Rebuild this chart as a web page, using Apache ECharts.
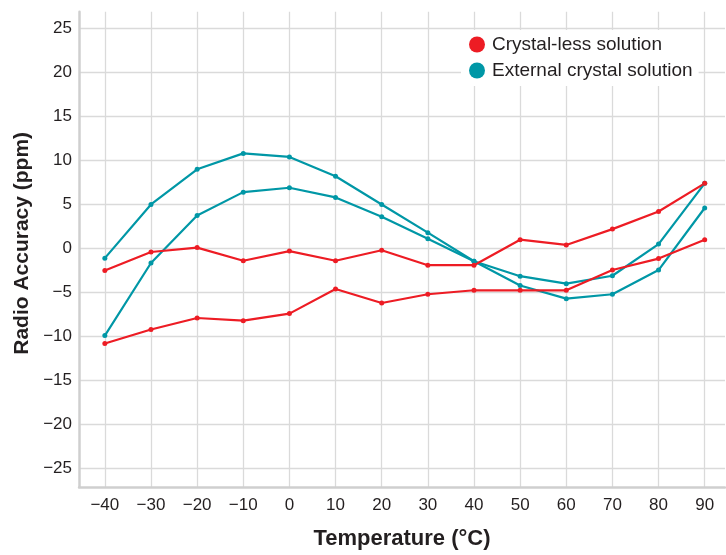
<!DOCTYPE html>
<html>
<head>
<meta charset="utf-8">
<script src="https://cdn.jsdelivr.net/npm/echarts@6/dist/echarts.min.js"></script>
<style>
html,body{margin:0;padding:0;background:#fff;}
#chart{width:726px;height:555px;}
</style>
</head>
<body>
<div id="chart"></div>
<script>
var temperatures = [-40, -30, -20, -10, 0, 10, 20, 30, 40, 50, 60, 70, 80, 90];
var crystalLessUpper = [-2.5, -0.4, 0.1, -1.4, -0.3, -1.4, -0.2, -1.9, -1.9, 1.0, 0.4, 2.2, 4.2, 7.4];
var crystalLessLower = [-10.8, -9.2, -7.9, -8.2, -7.4, -4.6, -6.2, -5.2, -4.75, -4.75, -4.75, -2.45, -1.15, 1.0];
var externalUpper = [-1.1, 5.0, 9.0, 10.8, 10.4, 8.2, 5.0, 1.8, -1.45, -3.15, -4.0, -3.1, 0.5, 7.4];
var externalLower = [-9.9, -1.65, 3.75, 6.4, 6.9, 5.8, 3.6, 1.1, -1.45, -4.2, -5.7, -5.2, -2.45, 4.6];
var yTicks = [-25, -20, -15, -10, -5, 0, 5, 10, 15, 20, 25];
var seriesNames = ['Crystal-less solution', 'External crystal solution'];

var RED = '#ed1c24';
var TEAL = '#0097a6';
var TXT = '#231f20';
var FONT = 'Liberation Sans, Arial, sans-serif';

function pairs(vals) {
  return temperatures.map(function (t, i) { return [t, vals[i]]; });
}
function fmt(v) { return String(v).replace('-', '\u2212'); }

function lineSeries(name, vals, color) {
  return {
    type: 'line', name: name, data: pairs(vals),
    symbol: 'circle', symbolSize: 5,
    lineStyle: { color: color, width: 2.2 },
    itemStyle: { color: color },
    emphasis: { disabled: true },
    animation: false
  };
}

var chart = echarts.init(document.getElementById('chart'), null, { renderer: 'canvas' });
chart.setOption({
  backgroundColor: '#fff',
  animation: false,
  textStyle: { fontFamily: FONT },
  grid: { left: 79, right: 1, top: 11.7, bottom: 62.3, containLabel: false },
  legend: {
    data: seriesNames,
    orient: 'vertical',
    left: 461, top: 30,
    padding: [5, 6, 6, 8],
    itemWidth: 16, itemHeight: 16, itemGap: 7,
    icon: 'circle',
    backgroundColor: '#fff',
    textStyle: { fontSize: 19, color: TXT, padding: [0, 0, 0, 2], fontFamily: FONT }
  },
  xAxis: {
    type: 'value', min: -45.6, max: 94.4,
    name: 'Temperature (\u00b0C)', nameLocation: 'middle', nameGap: 41,
    nameTextStyle: { fontSize: 22, fontWeight: 'bold', color: TXT, fontFamily: FONT },
    axisLine: { show: true, onZero: false, lineStyle: { color: '#cfcfcf', width: 2.5 } },
    axisTick: { show: false, customValues: temperatures },
    axisLabel: { customValues: temperatures, formatter: fmt, fontSize: 17, color: TXT, margin: 10 },
    splitLine: { show: true, lineStyle: { color: '#dadada', width: 1.3 } }
  },
  yAxis: {
    type: 'value', min: -27.1, max: 26.9,
    name: 'Radio Accuracy (ppm)', nameLocation: 'middle', nameGap: 46,
    nameTextStyle: { fontSize: 21, fontWeight: 'bold', color: TXT, fontFamily: FONT, padding: [0, 0, 0, 12] },
    axisLine: { show: true, onZero: false, lineStyle: { color: '#cfcfcf', width: 2.5 } },
    axisTick: { show: false, customValues: yTicks },
    axisLabel: { customValues: yTicks, formatter: fmt, fontSize: 17, color: TXT, margin: 7 },
    splitLine: { show: true, lineStyle: { color: '#dadada', width: 1.3 } }
  },
  series: [
    lineSeries(seriesNames[1], externalUpper, TEAL),
    lineSeries(seriesNames[1], externalLower, TEAL),
    lineSeries(seriesNames[0], crystalLessUpper, RED),
    lineSeries(seriesNames[0], crystalLessLower, RED)
  ]
});
</script>
</body>
</html>
